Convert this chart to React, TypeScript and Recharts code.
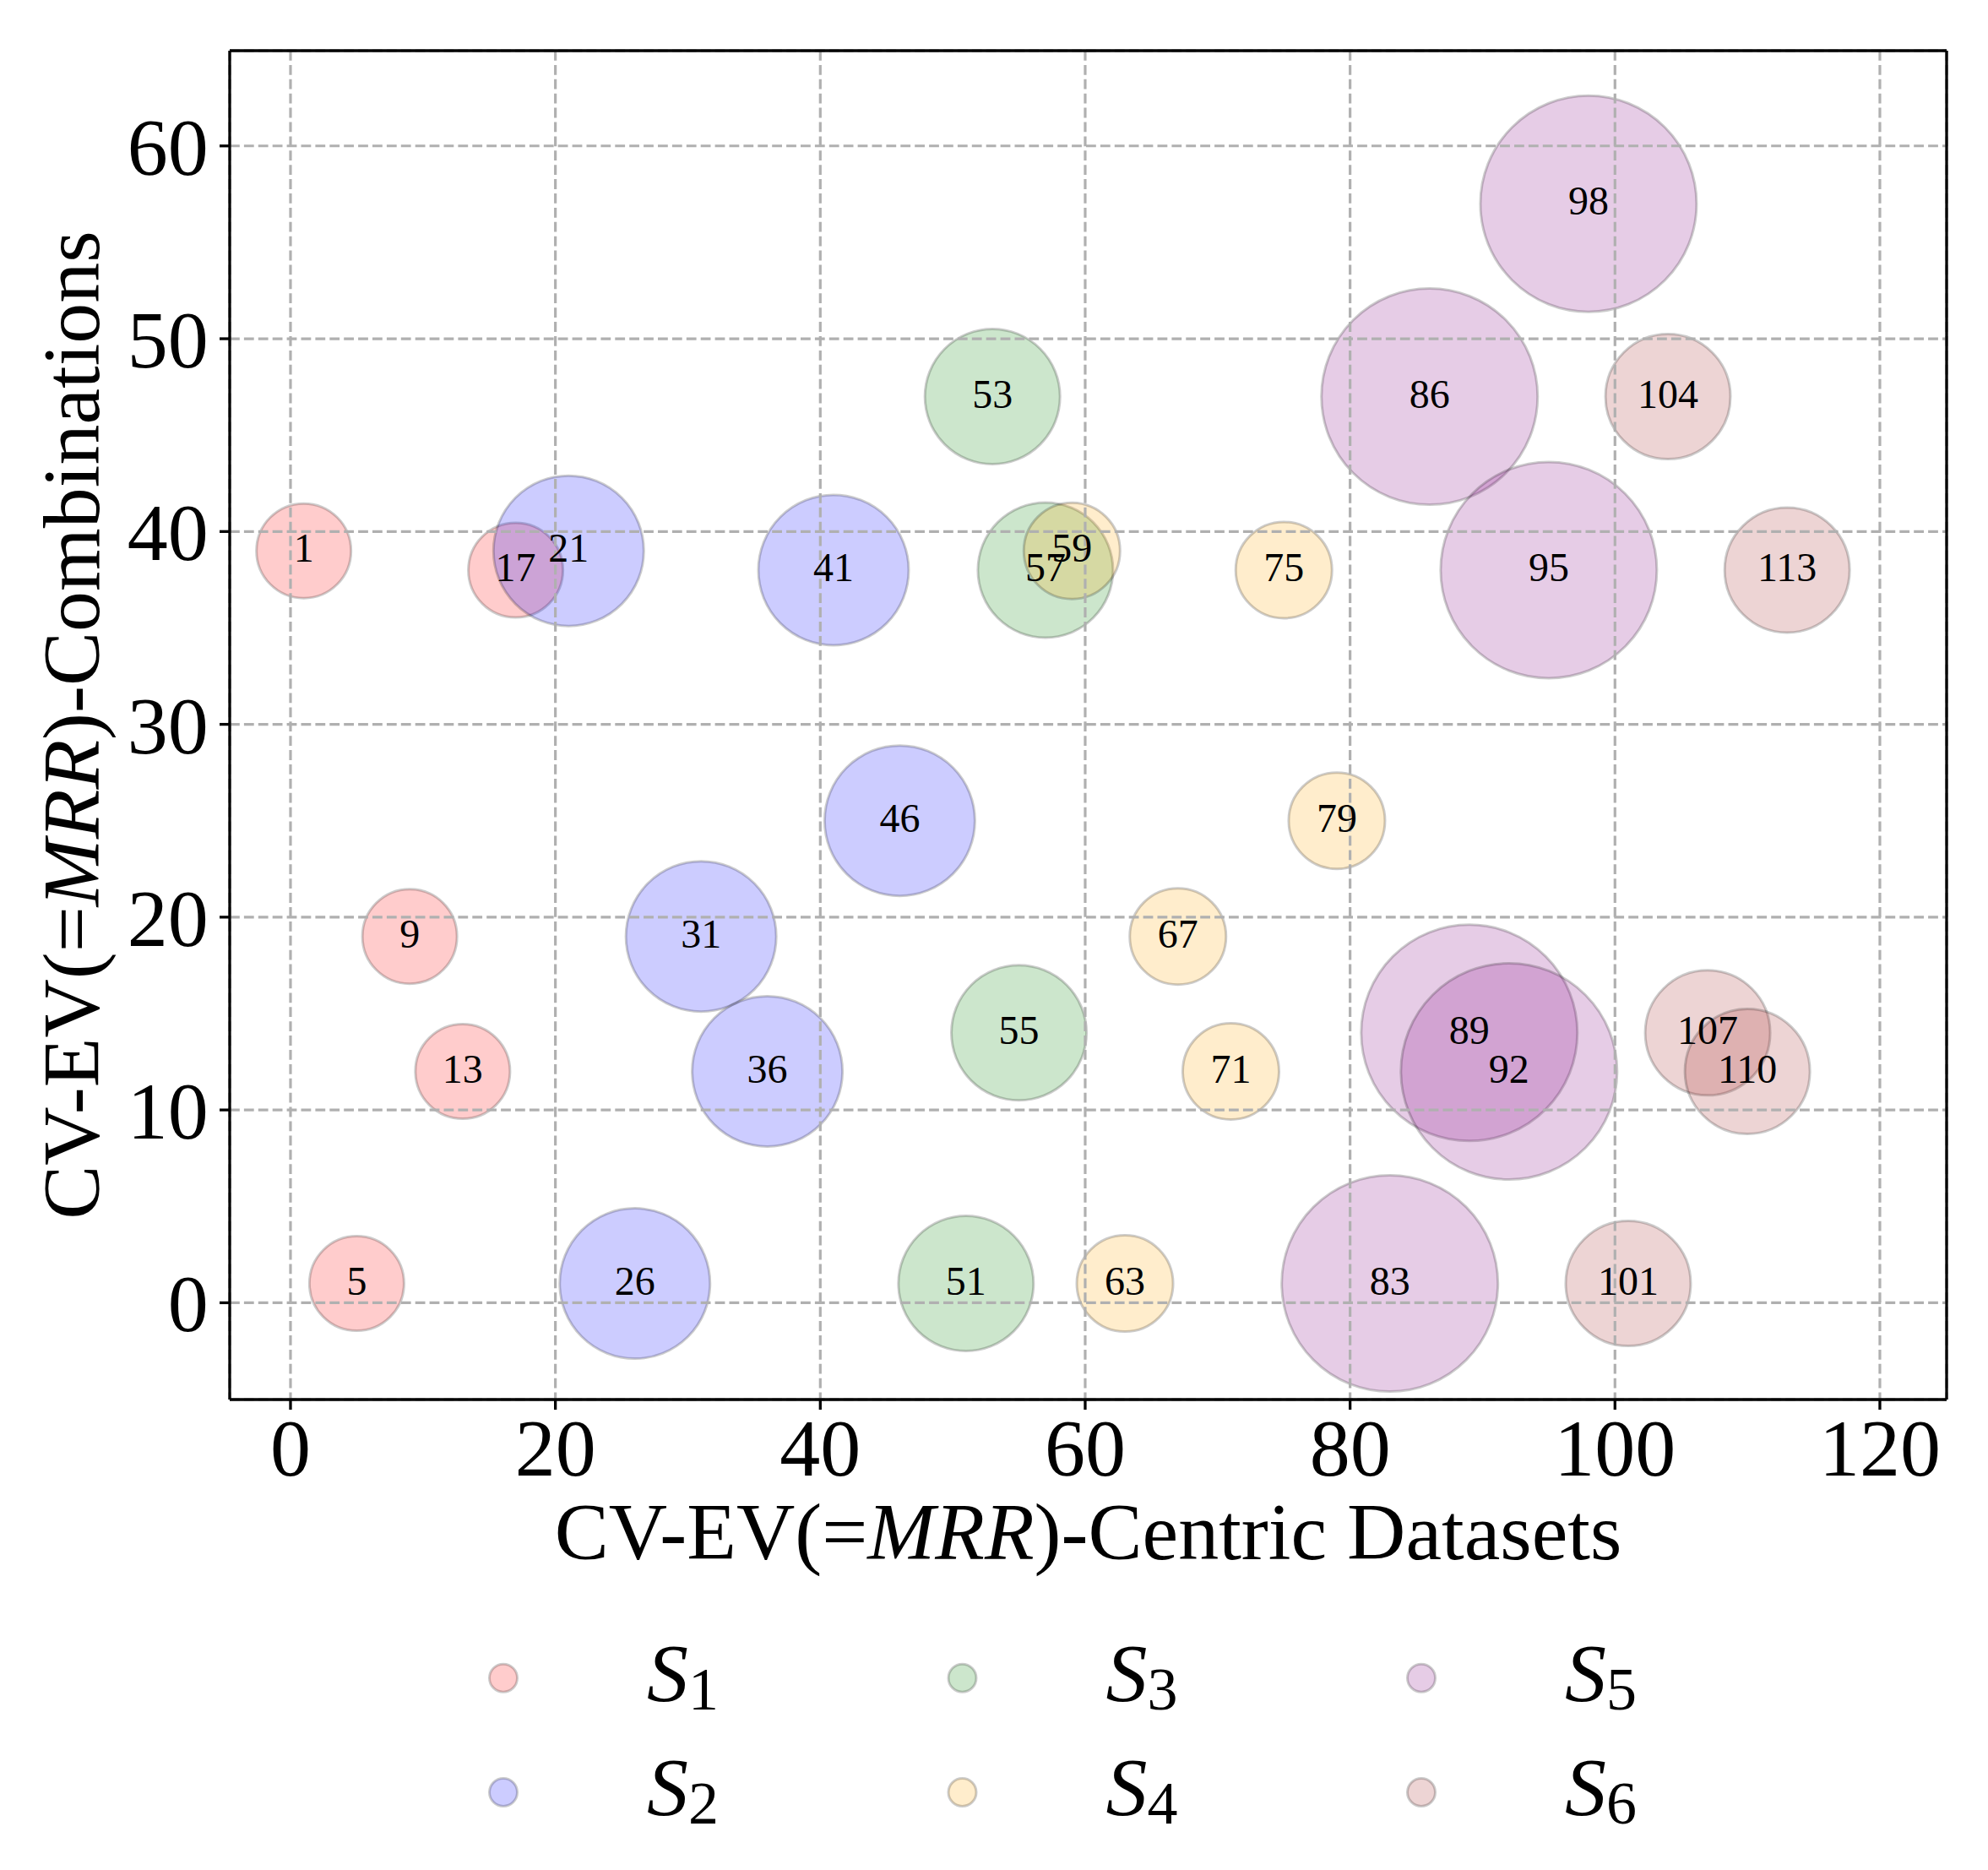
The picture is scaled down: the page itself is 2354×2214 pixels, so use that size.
import React from 'react';
import {
  ScatterChart,
  Scatter,
  XAxis,
  YAxis,
  CartesianGrid,
  LabelList,
  Legend,
  ReferenceLine,
} from 'recharts';

const FONT = "'Liberation Serif', 'Times New Roman', serif";

// dataset ids (x position) and number of combinations (y) per group
const s1Ids = [1, 5, 9, 13, 17];
const s1Combos = [39, 1, 19, 12, 38];
const s2Ids = [21, 26, 31, 36, 41, 46];
const s2Combos = [39, 1, 19, 12, 38, 25];
const s3Ids = [51, 53, 55, 57];
const s3Combos = [1, 47, 14, 38];
const s4Ids = [59, 63, 67, 71, 75, 79];
const s4Combos = [39, 1, 19, 12, 38, 25];
const s5Ids = [83, 86, 89, 92, 95, 98];
const s5Combos = [1, 47, 14, 12, 38, 57];
const s6Ids = [101, 104, 107, 110, 113];
const s6Combos = [1, 47, 14, 12, 38];

const groupSubs = ['1', '2', '3', '4', '5', '6'];
const xTicks = [0, 20, 40, 60, 80, 100, 120];
const yTicks = [0, 10, 20, 30, 40, 50, 60];

const toPoints = (ids: number[], combos: number[]) =>
  ids.map((id, i) => ({ id, x: id, y: combos[i] }));

const groups = [
  toPoints(s1Ids, s1Combos),
  toPoints(s2Ids, s2Combos),
  toPoints(s3Ids, s3Combos),
  toPoints(s4Ids, s4Combos),
  toPoints(s5Ids, s5Combos),
  toPoints(s6Ids, s6Combos),
];

// look of each group: base colour and bubble radius in px
const groupStyles = [
  { color: '#ff0000', r: 56 },
  { color: '#0000ff', r: 89 },
  { color: '#008000', r: 80 },
  { color: '#ffa500', r: 57 },
  { color: '#800080', r: 128 },
  { color: '#a52a2a', r: 74 },
];

const X_DOMAIN: [number, number] = [-4.59, 125.04];
const Y_DOMAIN: [number, number] = [-5.02, 64.94];

const axisStroke = { stroke: '#000', strokeWidth: 3.3 };
const tickStyle = { fontSize: 96, fill: '#000', fontFamily: FONT };

const bubble = (color: string, r: number) => (props: any) => (
  <circle
    cx={props.cx}
    cy={props.cy}
    r={r}
    fill={color}
    fillOpacity={0.2}
    stroke="#000"
    strokeOpacity={0.2}
    strokeWidth={3}
  />
);

const renderXLabel = (props: any) => {
  const vb = props.viewBox || { x: 272, y: 1657, width: 2033, height: 200 };
  const x = vb.x + vb.width / 2;
  const y = vb.y + 188.7;
  return (
    <text
      x={x}
      y={y}
      textAnchor="middle"
      fontFamily={FONT}
      fontSize={96}
      fill="#000"
    >
      CV-EV(=<tspan fontStyle="italic">MRR</tspan>)-Centric Datasets
    </text>
  );
};

const renderYLabel = (props: any) => {
  const vb = props.viewBox || { x: 0, y: 60, width: 272, height: 1597 };
  const x = vb.x + 116.7;
  const y = vb.y + vb.height / 2;
  return (
    <text
      x={x}
      y={y}
      transform={`rotate(-90 ${x} ${y})`}
      textAnchor="middle"
      fontFamily={FONT}
      fontSize={96}
      fill="#000"
    >
      CV-EV(=<tspan fontStyle="italic">MRR</tspan>)-Combinations
    </text>
  );
};

const renderLegend = () => (
  <svg width={2354} height={314} style={{ display: 'block' }}>
    {groupStyles.map((g, i) => {
      const col = Math.floor(i / 2);
      const row = i % 2;
      const cx = 596 + col * 543.5;
      const cy = 86.7 + row * 135.3;
      return (
        <g key={i}>
          <circle
            cx={cx}
            cy={cy}
            r={16.5}
            fill={g.color}
            fillOpacity={0.2}
            stroke="#000"
            strokeOpacity={0.2}
            strokeWidth={3}
          />
          <text
            x={cx + 170}
            y={cy + 27.3}
            fontFamily={FONT}
            fontSize={98}
            fontStyle="italic"
            fill="#000"
          >
            S
            <tspan fontStyle="normal" fontSize={72} dy={10}>
              {groupSubs[i]}
            </tspan>
          </text>
        </g>
      );
    })}
  </svg>
);

export default function App() {
  return (
    <div style={{ fontFamily: FONT }}>
      <style>{'body{margin:0;background:#fff}'}</style>
      <ScatterChart
        width={2354}
        height={2214}
        margin={{ top: 60, right: 49, bottom: 357, left: 0 }}
      >
        <CartesianGrid
          stroke="#b0b0b0"
          strokeWidth={3.2}
          strokeDasharray="11.8 5.1"
          zIndex={700}
        />
        <XAxis
          type="number"
          dataKey="x"
          domain={X_DOMAIN}
          ticks={xTicks}
          interval={0}
          allowDataOverflow
          height={200}
          tick={tickStyle}
          tickSize={12}
          tickMargin={9.5}
          axisLine={axisStroke}
          tickLine={axisStroke}
          label={renderXLabel}
          zIndex={800}
        />
        <YAxis
          type="number"
          dataKey="y"
          domain={Y_DOMAIN}
          ticks={yTicks}
          interval={0}
          allowDataOverflow
          width={272}
          tick={tickStyle}
          tickSize={12}
          tickMargin={13.3}
          axisLine={axisStroke}
          tickLine={axisStroke}
          label={renderYLabel}
          zIndex={800}
        />
        {groups.map((pts, i) => (
          <Scatter
            key={i}
            name={`S${groupSubs[i]}`}
            data={pts}
            fill={groupStyles[i].color}
            shape={bubble(groupStyles[i].color, groupStyles[i].r)}
            isAnimationActive={false}
          >
            <LabelList
              dataKey="id"
              position="center"
              fontSize={48}
              fill="#000"
              fontFamily={FONT}
              dy={-4}
            />
          </Scatter>
        ))}
        {/* top and right spines of the frame */}
        <ReferenceLine
          y={Y_DOMAIN[1]}
          stroke="#000"
          strokeWidth={3.3}
          ifOverflow="visible"
          zIndex={800}
        />
        <ReferenceLine
          x={X_DOMAIN[1]}
          stroke="#000"
          strokeWidth={3.3}
          ifOverflow="visible"
          zIndex={800}
        />
        <Legend
          content={renderLegend}
          layout="horizontal"
          verticalAlign="middle"
          align="center"
          wrapperStyle={{ left: 0, top: 1900, width: 2354, height: 314 }}
        />
      </ScatterChart>
    </div>
  );
}
